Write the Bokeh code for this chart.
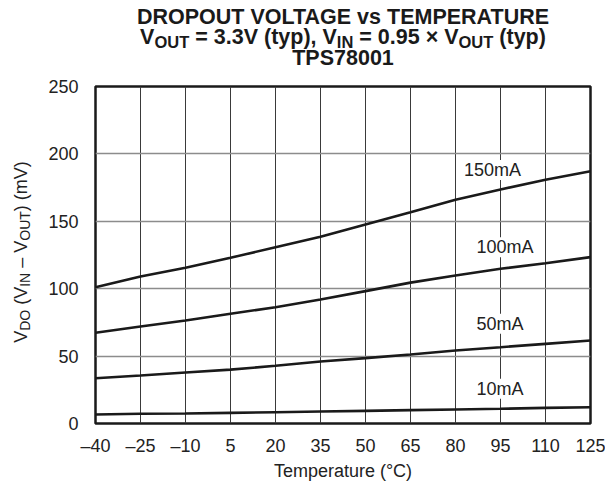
import math
from bokeh.plotting import figure
from bokeh.models import Label, FixedTicker, Range1d
from bokeh.layouts import column, row
from bokeh.embed import file_html
from bokeh.resources import INLINE

# ---------------- data ----------------
temperature = [-40, -25, -10, 5, 20, 35, 50, 65, 80, 95, 110, 125]
vdo_10mA = [6.7, 7.2, 7.4, 7.9, 8.4, 8.9, 9.4, 9.9, 10.4, 10.9, 11.6, 12.1]
vdo_50mA = [33.6, 35.6, 37.8, 40.0, 42.8, 46.0, 48.5, 51.2, 54.2, 56.6, 59.1, 61.6]
vdo_100mA = [67.3, 72.0, 76.4, 81.4, 86.3, 92.0, 98.2, 104.5, 109.8, 114.8, 118.9, 123.4]
vdo_150mA = [101.1, 109.0, 115.5, 122.9, 130.8, 138.5, 147.6, 156.7, 166.0, 173.6, 180.8, 187.2]
series_names = ["10mA", "50mA", "100mA", "150mA"]

x_ticks = [-40, -25, -10, 5, 20, 35, 50, 65, 80, 95, 110, 125]
x_tick_labels = ["\u201340", "\u201325", "\u201310", "5", "20", "35", "50", "65", "80", "95", "110", "125"]
y_ticks = [0, 50, 100, 150, 200, 250]

title_line1 = "DROPOUT VOLTAGE vs TEMPERATURE"
title_line2 = [("V", False), ("OUT", True), (" = 3.3V (typ), V", False), ("IN", True),
               (" = 0.95 \u00d7 V", False), ("OUT", True), (" (typ)", False)]
title_line3 = "TPS78001"
y_label_parts = [("V", False), ("DO", True), (" (V", False), ("IN", True),
                 (" \u2013 V", False), ("OUT", True), (") (mV)", False)]
x_label = "Temperature (\u00b0C)"

# ---------------- font metrics (Arial / Liberation Sans) ----------------
REG = {' ': 278, '(': 333, ')': 333, '\u2013': 556, 'V': 667, 'D': 722, 'O': 778,
       'I': 278, 'N': 722, 'U': 722, 'T': 611, 'm': 833}
BOLD = {' ': 278, '=': 584, '.': 278, 'V': 667, '(': 333, 't': 333, 'y': 556, 'p': 611,
        ')': 333, ',': 278, '\u00d7': 584, 'O': 778, 'U': 722, 'T': 611, 'I': 278, 'N': 722}
for d in "0123456789":
    BOLD[d] = 556
    REG[d] = 556


def text_width(s, size, table):
    return sum(table.get(c, 556) for c in s) * size / 1000.0


FONT = "Liberation Sans"
INK = "#1a1a1a"
GREY_TXT = "#222222"
BASE_SHIFT = 0.36  # rendered labels are box-centred: shift to put the baseline where wanted

TOTAL_W = 605
TITLE_H = 72
YLAB_W = 40
FRAME_W, FRAME_H = 495, 337
MAIN_TOP, MAIN_BOTTOM, MAIN_LEFT, MAIN_RIGHT = 14, 54, 55, 15


def blank_fig(w, h=None, frame_h=None, top=0, bottom=0):
    kw = dict(width=w, x_range=Range1d(0, w),
              x_axis_location=None, y_axis_location=None,
              output_backend="svg", toolbar_location=None,
              min_border_left=0, min_border_right=0,
              min_border_top=top, min_border_bottom=bottom)
    if frame_h is not None:
        kw.update(frame_height=frame_h, y_range=Range1d(0, frame_h))
    else:
        kw.update(height=h, y_range=Range1d(0, h))
    f = figure(**kw)
    f.grid.visible = False
    f.outline_line_color = None
    f.background_fill_color = "white"
    f.border_fill_color = "white"
    return f


def lbl(x, y, text, size, bold=False, align="left", angle=0.0, color=INK):
    return Label(x=x, y=y, text=text, text_font=FONT, text_font_size=f"{size}px",
                 text_font_style="bold" if bold else "normal", text_color=color,
                 text_align=align, text_baseline="alphabetic", angle=angle)


def run_pieces(parts, main, sub, table):
    pos = 0.0
    out = []
    for s_, is_sub in parts:
        size = sub if is_sub else main
        lead = len(s_) - len(s_.lstrip(" "))
        out.append((pos + text_width(" " * lead, size, table), s_.strip(" "), size, is_sub))
        pos += text_width(s_, size, table)
    return out, pos


# ---------------- title block (y measured from the top of the page) ----------------
t = blank_fig(TOTAL_W, h=TITLE_H)
cx = YLAB_W + MAIN_LEFT + FRAME_W / 2.0
T_MAIN, T_SUB = 21.5, 16.5


def ty(page_baseline, size):
    return TITLE_H - page_baseline + BASE_SHIFT * size


t.add_layout(lbl(cx, ty(24.3, T_MAIN), title_line1, T_MAIN, bold=True, align="center"))
pieces, w_total = run_pieces(title_line2, T_MAIN, T_SUB, BOLD)
x_start = cx - w_total / 2.0
for off, s_, size, is_sub in pieces:
    t.add_layout(lbl(x_start + off, ty(44.3 + (3.5 if is_sub else 0), size), s_, size, bold=True))
t.add_layout(lbl(cx, ty(65.5, T_MAIN), title_line3, T_MAIN, bold=True, align="center"))

# ---------------- rotated y label block (frame matches the chart frame) ----------------
yl = blank_fig(YLAB_W, frame_h=FRAME_H, top=MAIN_TOP, bottom=MAIN_BOTTOM)
YM, YS = 18, 14
pieces, L = run_pieces(y_label_parts, YM, YS, REG)
y_start = FRAME_H / 2.0 - L / 2.0 + 3
bx = 26.5
for off, s_, size, is_sub in pieces:
    xb = bx + (3.5 if is_sub else 0) - BASE_SHIFT * size
    yl.add_layout(lbl(xb, y_start + off, s_, size, angle=math.pi / 2, color=GREY_TXT))

# ---------------- main chart ----------------
p = figure(frame_width=FRAME_W, frame_height=FRAME_H,
           x_range=Range1d(-40, 125), y_range=Range1d(0, 250),
           output_backend="svg", toolbar_location=None,
           min_border_left=MAIN_LEFT, min_border_right=MAIN_RIGHT,
           min_border_top=MAIN_TOP, min_border_bottom=40)
p.background_fill_color = "white"
p.border_fill_color = "white"
p.outline_line_color = INK
p.outline_line_width = 2.5

p.xaxis.ticker = FixedTicker(ticks=x_ticks)
p.xaxis.major_label_overrides = {tk: lab for tk, lab in zip(x_ticks, x_tick_labels)}
p.yaxis.ticker = FixedTicker(ticks=y_ticks)
for ax in (p.xaxis[0], p.yaxis[0]):
    ax.axis_line_color = None
    ax.major_tick_line_color = None
    ax.minor_tick_line_color = None
    ax.major_tick_out = 0
    ax.major_tick_in = 0
    ax.major_label_text_font = FONT
    ax.major_label_text_font_size = "18px"
    ax.major_label_text_color = GREY_TXT
p.xaxis.major_label_standoff = 12
p.yaxis.major_label_standoff = 17
p.xaxis.axis_label = x_label
p.xaxis.axis_label_text_font = FONT
p.xaxis.axis_label_text_font_size = "18px"
p.xaxis.axis_label_text_font_style = "normal"
p.xaxis.axis_label_text_color = GREY_TXT
p.xaxis.axis_label_standoff = 2

p.xgrid.grid_line_color = "#3a3a3a"
p.xgrid.grid_line_width = 1
p.ygrid.grid_line_color = "#8c8c8c"
p.ygrid.grid_line_width = 1.5

for ys in (vdo_10mA, vdo_50mA, vdo_100mA, vdo_150mA):
    p.line(temperature, ys, line_color=INK, line_width=2.6)

# curve labels: left edge (deg C) and text-centre value (mV)
curve_label_pos = {"150mA": (82.8, 188.0), "100mA": (87.0, 130.8),
                   "50mA": (87.0, 74.0), "10mA": (87.0, 25.8)}
for name in series_names:
    lx, ly = curve_label_pos[name]
    p.add_layout(Label(x=lx, y=ly, text=name, text_font=FONT, text_font_size="18px",
                       text_color=GREY_TXT, text_align="left", text_baseline="alphabetic",
                       background_fill_color="white", padding=0))

layout = column(t, row(yl, p, spacing=0), spacing=0)
open("out.html", "w").write(file_html(layout, INLINE))
